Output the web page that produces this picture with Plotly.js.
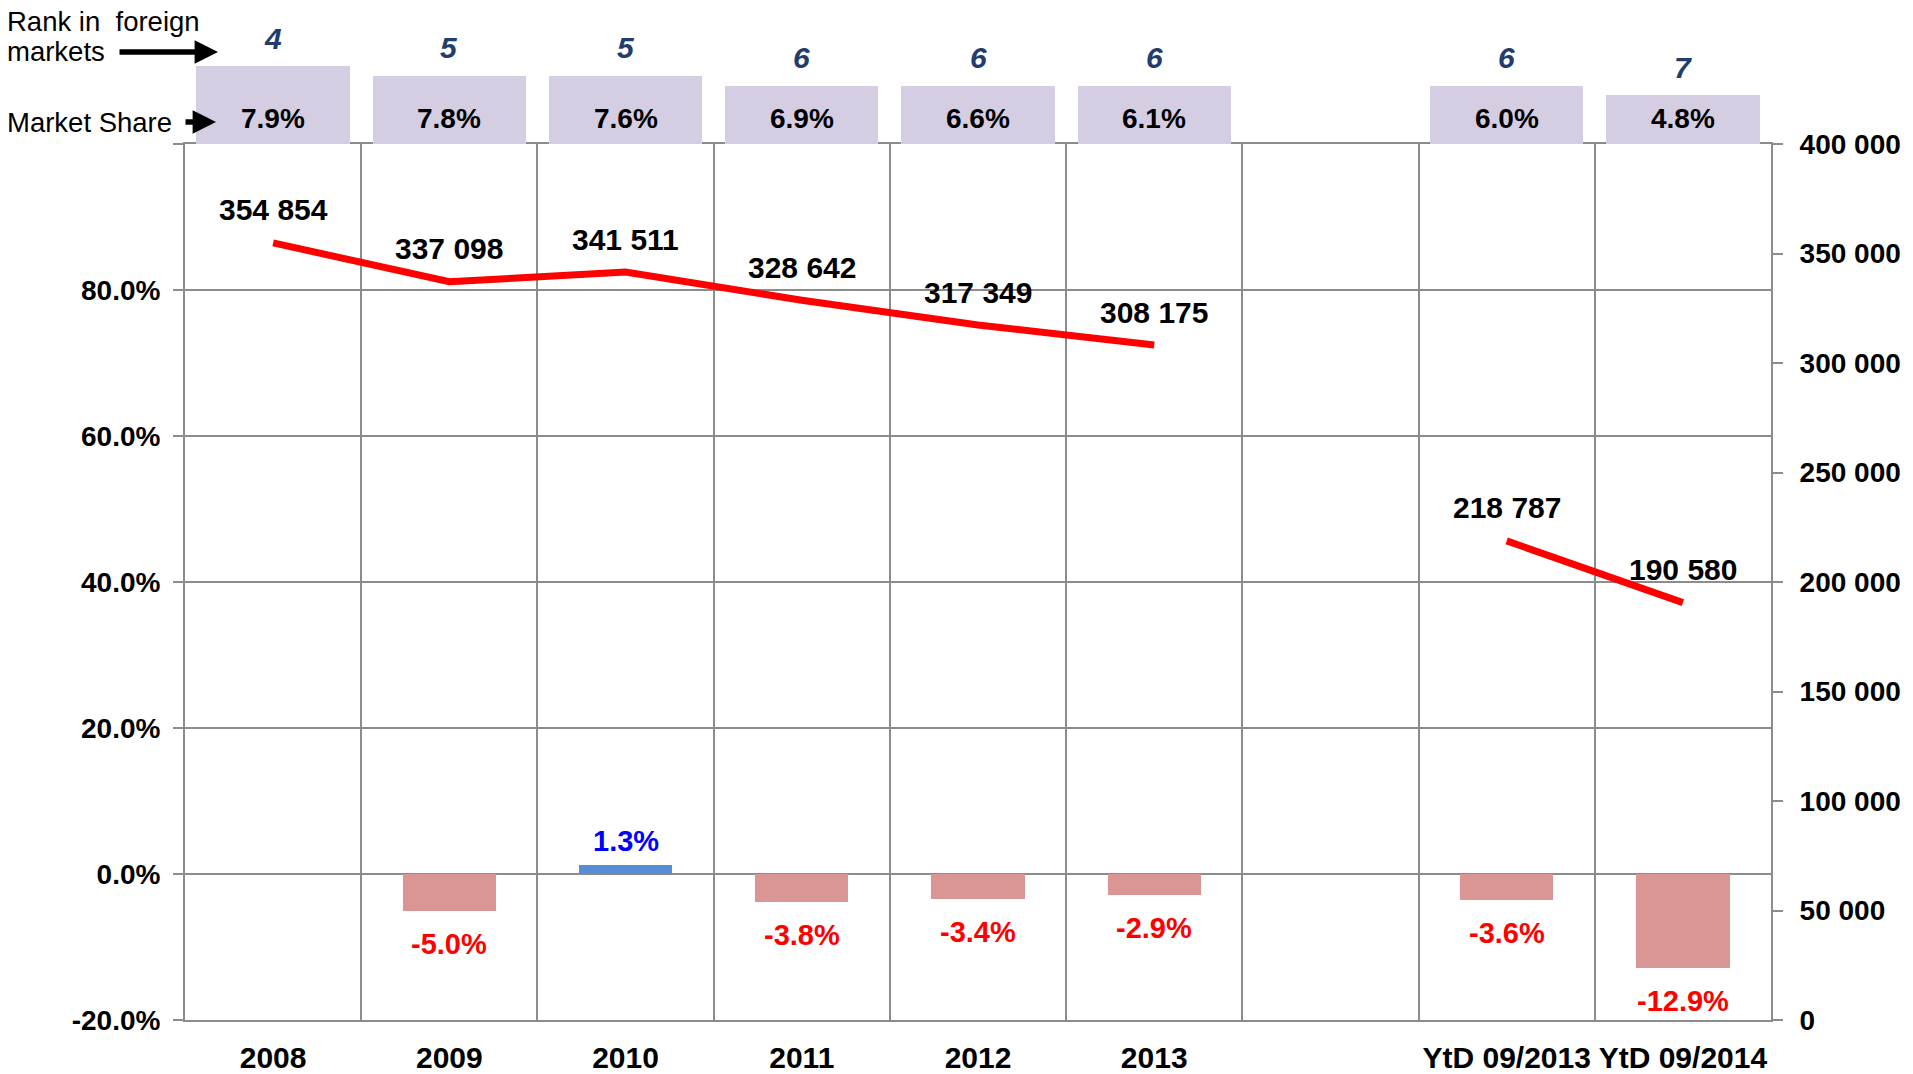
<!DOCTYPE html>
<html>
<head>
<meta charset="utf-8">
<script src="https://cdn.plot.ly/plotly-3.0.1.min.js"></script>
<style>html,body{margin:0;padding:0;background:#fff;}#chart{width:1913px;height:1074px;}</style>
</head>
<body>
<div id="chart"></div>
<script>
// ---- data ----
const categories = ['2008', '2009', '2010', '2011', '2012', '2013', ' ', 'YtD 09/2013', 'YtD 09/2014'];
const registrations = [354854, 337098, 341511, 328642, 317349, 308175, null, 218787, 190580];
const growthPct = [null, -5.0, 1.3, -3.8, -3.4, -2.9, null, -3.6, -12.9];
const marketSharePct = [7.9, 7.8, 7.6, 6.9, 6.6, 6.1, null, 6.0, 4.8];
const rankForeign = [4, 5, 5, 6, 6, 6, null, 6, 7];
const leftTickVals = [-20, 0, 20, 40, 60, 80, 100];
const leftTickText = ['-20.0%', '0.0%', '20.0%', '40.0%', '60.0%', '80.0%', ''];

// ---- styling ----
const FONT = 'Liberation Sans, Arial, sans-serif';
const GRID = '#8c8c8c';
const W = 1913, H = 1074;
const ML = 185, MR = 142, MB = 54;
const plotW = W - ML - MR, plotH = H - MB;
const mainTop = 144; // pixel where the main plot starts
const mainDomainTop = (plotH - mainTop) / plotH;
const boxUnitPx = 9.75;
const boxRangeTop = mainTop / boxUnitPx;

function spaced(v) { return String(v).replace(/\B(?=(\d{3})+(?!\d))/g, ' '); }
function pct(v) { return v.toFixed(1) + '%'; }
function px2x(px) { return (px - ML) / plotW; }
function px2y(py) { return (plotH - py) / plotH; }

const boxHeights = rankForeign.map(r => r == null ? null : 12 - r);

const traces = [
  {
    type: 'bar', x: categories, y: growthPct, xaxis: 'x', yaxis: 'y',
    width: 0.53,
    marker: { color: growthPct.map(v => v != null && v >= 0 ? '#558ed5' : '#d99694') },
    hoverinfo: 'none', showlegend: false
  },
  {
    type: 'scatter', mode: 'lines', x: categories, y: registrations, xaxis: 'x', yaxis: 'y2',
    line: { color: '#ff0000', width: 7 }, connectgaps: false,
    hoverinfo: 'none', showlegend: false
  },
  {
    type: 'bar', x: categories, y: boxHeights, xaxis: 'x2', yaxis: 'y3',
    width: 0.87, marker: { color: '#d5cde1' },
    hoverinfo: 'none', showlegend: false
  }
];

const annotations = [];
categories.forEach((c, i) => {
  if (growthPct[i] != null) {
    const g = growthPct[i];
    annotations.push({
      xref: 'x', yref: 'y', x: i, y: g, text: pct(g), showarrow: false,
      yshift: g < 0 ? -33 : 24,
      font: { family: FONT, size: 29, weight: 700, color: g < 0 ? '#ff0000' : '#0000ff' }
    });
  }
  if (registrations[i] != null) {
    annotations.push({
      xref: 'x', yref: 'y2', x: i, y: registrations[i], text: spaced(registrations[i]), showarrow: false,
      yshift: 33,
      font: { family: FONT, size: 30, weight: 700, color: '#000000' }
    });
  }
  if (marketSharePct[i] != null) {
    annotations.push({
      xref: 'x2', yref: 'y3', x: i, y: 0, text: pct(marketSharePct[i]), showarrow: false,
      yshift: 26,
      font: { family: FONT, size: 28, weight: 700, color: '#000000' }
    });
  }
  if (rankForeign[i] != null) {
    annotations.push({
      xref: 'x2', yref: 'y3', x: i, y: boxHeights[i], text: String(rankForeign[i]), showarrow: false,
      yshift: 28,
      font: { family: FONT, size: 30, weight: 700, style: 'italic', color: '#1f3d6d' }
    });
  }
});

// left-side explanatory labels and arrows
annotations.push(
  { xref: 'paper', yref: 'paper', x: px2x(5), y: px2y(21), xanchor: 'left', yanchor: 'middle',
    text: 'Rank in\u00a0 foreign', showarrow: false, font: { family: FONT, size: 27.5, color: '#000' } },
  { xref: 'paper', yref: 'paper', x: px2x(5), y: px2y(51), xanchor: 'left', yanchor: 'middle',
    text: 'markets', showarrow: false, font: { family: FONT, size: 27.5, color: '#000' } },
  { xref: 'paper', yref: 'paper', x: px2x(5), y: px2y(122), xanchor: 'left', yanchor: 'middle',
    text: 'Market Share', showarrow: false, font: { family: FONT, size: 27.5, color: '#000' } },
  { xref: 'paper', yref: 'paper', x: px2x(218), y: px2y(52), text: '', showarrow: true,
    axref: 'pixel', ayref: 'pixel', ax: -100, ay: 0,
    arrowhead: 2, arrowsize: 0.85, arrowwidth: 5.5, arrowcolor: '#000', standoff: 0, startstandoff: 0 },
  { xref: 'paper', yref: 'paper', x: px2x(216), y: px2y(122), text: '', showarrow: true,
    axref: 'pixel', ayref: 'pixel', ax: -32, ay: 0,
    arrowhead: 2, arrowsize: 0.85, arrowwidth: 5.5, arrowcolor: '#000', standoff: 0, startstandoff: 0 }
);

const layout = {
  width: W, height: H, autosize: false,
  margin: { l: ML, r: MR, t: 0, b: MB, pad: 0 },
  paper_bgcolor: '#ffffff', plot_bgcolor: '#ffffff',
  separators: '. ',
  showlegend: false,
  bargap: 0,
  font: { family: FONT, color: '#000' },
  xaxis: {
    type: 'category', categoryorder: 'array', categoryarray: categories,
    domain: [0, 1], anchor: 'y', range: [-0.5, 8.5],
    tickson: 'boundaries', showgrid: true, gridcolor: GRID, gridwidth: 2,
    showline: true, linecolor: GRID, linewidth: 2, mirror: true,
    ticks: '', ticklabelstandoff: 10, tickangle: 0,
    tickfont: { family: FONT, size: 30, weight: 700, color: '#000' },
    fixedrange: true
  },
  yaxis: {
    domain: [0, mainDomainTop], anchor: 'x', range: [-20, 100],
    tickvals: leftTickVals, ticktext: leftTickText,
    showgrid: true, gridcolor: GRID, gridwidth: 2,
    zeroline: true, zerolinecolor: GRID, zerolinewidth: 2,
    showline: true, linecolor: GRID, linewidth: 2,
    ticks: 'outside', ticklen: 10, tickwidth: 2, tickcolor: GRID,
    ticklabelstandoff: 7,
    tickfont: { family: FONT, size: 28, weight: 700, color: '#000' },
    fixedrange: true
  },
  yaxis2: {
    overlaying: 'y', side: 'right', anchor: 'x', range: [0, 400000], dtick: 50000,
    tickformat: ',d', showgrid: false, zeroline: false,
    showline: true, linecolor: GRID, linewidth: 2,
    ticks: 'outside', ticklen: 10, tickwidth: 2, tickcolor: GRID,
    ticklabelstandoff: 11,
    tickfont: { family: FONT, size: 28, weight: 700, color: '#000' },
    fixedrange: true
  },
  xaxis2: {
    type: 'category', categoryorder: 'array', categoryarray: categories,
    domain: [0, 1], anchor: 'y3', range: [-0.5, 8.5], visible: false, fixedrange: true
  },
  yaxis3: {
    domain: [mainDomainTop, 1], anchor: 'x2', range: [0, boxRangeTop], visible: false, fixedrange: true
  },
  annotations: annotations
};

Plotly.newPlot('chart', traces, layout, { displayModeBar: false, staticPlot: true });
</script>
</body>
</html>
